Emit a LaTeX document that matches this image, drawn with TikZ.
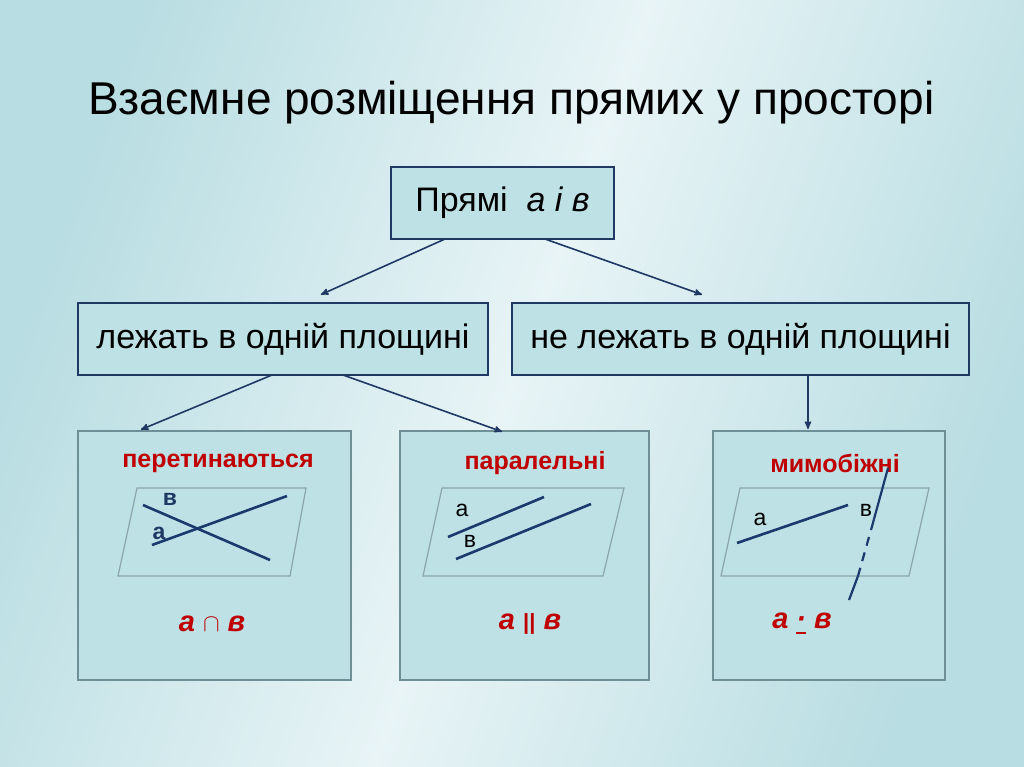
\documentclass[tikz,border=0pt]{standalone}
\usepackage{amsmath}
\usepackage{amssymb}
\usepackage{fontspec}
\setmainfont{Liberation Sans}
\usetikzlibrary{arrows, positioning}

\definecolor{bgblue}{HTML}{B8DDE2}
\definecolor{bglight}{HTML}{E8F4F6}
\definecolor{boxfill}{HTML}{BEE1E6}
\definecolor{navy}{HTML}{1F3864}
\definecolor{lineblue}{HTML}{1A3A6E}
\definecolor{redtext}{HTML}{C00000}
\definecolor{greyline}{HTML}{6E8F96}

\tikzset{
  topbox/.style = {draw=navy, fill=boxfill, line width=1.8pt, inner sep=0pt, font=\fontsize{34}{38}\selectfont},
  casebox/.style = {draw=greyline, fill=boxfill, line width=1.2pt},
  plane/.style = {draw=greyline!80, line width=1.2pt},
  linestroke/.style = {draw=lineblue, line width=2.6pt},
  arr/.style = {draw=navy, line width=1.6pt, -stealth', shorten >=1pt},
  casename/.style = {text=redtext, font=\bfseries\fontsize{25}{28}\selectfont},
  formula/.style = {text=redtext, font=\bfseries\itshape\fontsize{29}{32}\selectfont},
  lbl/.style = {text=black, font=\fontsize{23}{26}\selectfont}
}

\begin{document}
\begin{tikzpicture}[x=1pt, y=-1pt]
  \shade[top color=bgblue, bottom color=bgblue, middle color=bglight, shading angle=70] (0,0) rectangle (1024,767);
  \useasboundingbox (0,0) rectangle (1024,767);

  \node[anchor=west, inner sep=0pt, font=\fontsize{46}{52}\selectfont] (title) at (88,103) {Взаємне розміщення прямих  у просторі};

  % top level
  \node[topbox, minimum width=223pt, minimum height=72pt] (lines) at (502.5,203) {Прямі \ \textit{а і в}};
  \node[topbox, minimum width=410pt, minimum height=72pt] (inplane) at (283,339) {лежать в одній площині};
  \node[topbox, minimum width=457pt, minimum height=72pt] (notplane) at (740.5,339) {не лежать в одній площині};

  % cases
  \node[casebox, minimum width=273pt, minimum height=249pt] (cross) at (214.5,555.5) {};
  \node[casebox, minimum width=249pt, minimum height=249pt] (para) at (524.5,555.5) {};
  \node[casebox, minimum width=232pt, minimum height=249pt] (skew) at (829,555.5) {};

  \coordinate (l1) at (445,239); \coordinate (l2) at (545,239);
  \coordinate (i1) at (272,375); \coordinate (i2) at (343,375);
  \draw[arr] (l1) -- (320,295);
  \draw[arr] (l2) -- (703,295);
  \draw[arr] (i1) -- (140,430);
  \draw[arr] (i2) -- (503,432);
  \draw[arr] (notplane.south -| 808,0) -- (808,430);

  \node[casename] (crossname) at (218,463) {перетинаються};
  \node[casename] (paraname) at (535,463) {паралельні};
  \node[casename] (skewname) at (835,463) {мимобіжні};

  % intersecting
  \draw[plane] (137,488) -- (306,488) -- (290,576) -- (118,576) -- cycle;
  \draw[linestroke] (143,505) -- (270,560);
  \draw[linestroke] (152,545) -- (287,496);
  \node[lbl, font=\bfseries\fontsize{23}{26}\selectfont, text=navy] (cb) at (170,499) {в};
  \node[lbl, font=\bfseries\fontsize{23}{26}\selectfont, text=navy] (ca) at (159,533) {а};

  % parallel
  \draw[plane] (442,488) -- (624,488) -- (603,576) -- (423,576) -- cycle;
  \draw[linestroke] (448,537) -- (544,497);
  \draw[linestroke] (456,559) -- (591,504);
  \node[lbl] (pa) at (462,510) {а};
  \node[lbl] (pb) at (470,541) {в};

  % skew
  \draw[plane] (740,488) -- (929,488) -- (909,576) -- (721,576) -- cycle;
  \draw[linestroke] (737,543) -- (848,505);
  \draw[draw=lineblue, line width=2.2pt] (888,468) -- (871,530);
  \draw[draw=lineblue, line width=2.2pt, dash pattern=on 9pt off 7pt] (869,537) -- (858,576);
  \draw[draw=lineblue, line width=2.2pt] (858,576) -- (849,600);
  \node[lbl] (sa) at (760,519) {а};
  \node[lbl] (sb) at (866,510) {в};

  \node[formula] (crossf) at (212,624) {а $\cap$ в};
  \node[formula] (paraf) at (530,624) {а {\upshape\fontsize{22}{24}\selectfont ||} в};
  \node[formula] (skewf) at (802,624) {а \underline{·} в};
\end{tikzpicture}
\end{document}
